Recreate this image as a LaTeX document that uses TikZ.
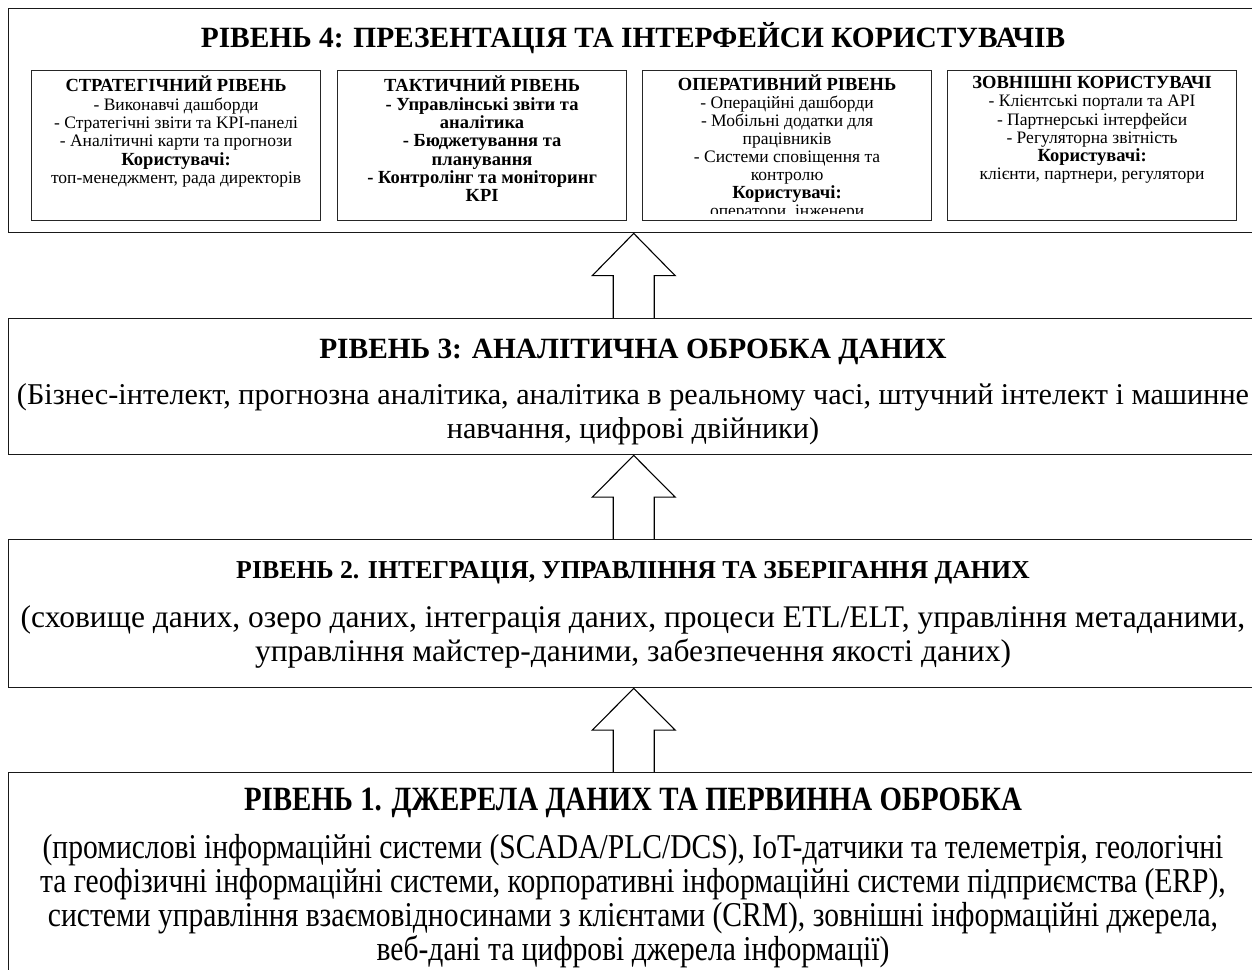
\documentclass[tikz,border=0pt]{standalone}
\usepackage{fontspec}
\setmainfont{Liberation Serif}
\newfontfamily\condfont{Liberation Serif}[FakeStretch=0.85]
\usetikzlibrary{calc}
\newcommand\hb[1]{{\bfseries\fontsize{18.5}{18.3}\selectfont #1}}
\newcommand\blockup[2]{%
 \draw[blockarr] let \p1=(#1.north), \p2=(#2.south), \n1={(\y2-\y1)/2} in
 (\x1-20.5pt,\y1) -- (\x1-20.5pt,\y1+\n1) -- (\x1-41.5pt,\y1+\n1) -- (\x1,\y2)
 -- (\x1+41.5pt,\y1+\n1) -- (\x1+20.5pt,\y1+\n1) -- (\x1+20.5pt,\y1);}
\begin{document}
\begin{tikzpicture}[x=1pt,y=1pt,
 lvl/.style={draw=black!90, line width=1.4pt, rectangle, anchor=north west, inner sep=0, minimum width=1250},
 sub/.style={draw=black!85, line width=1.2pt, rectangle, anchor=north west, inner sep=0, minimum width=289, minimum height=150},
 ttl/.style={font=\bfseries\fontsize{29.4}{33}\selectfont, inner sep=0},
 desc/.style={font=\fontsize{30.2}{34}\selectfont, align=center, inner sep=0},
 subtxt/.style={font=\fontsize{17.5}{18.3}\selectfont, align=center, inner sep=0, anchor=north},
 blockarr/.style={draw, line width=1.1pt, line join=miter}]
\useasboundingbox (0,0) rectangle (1252,969);

% Level 4
\node[lvl, minimum height=224] (l4) at (8,961) {};
\node[ttl] (t4) at (633,931) {РІВЕНЬ 4: ПРЕЗЕНТАЦІЯ ТА ІНТЕРФЕЙСИ КОРИСТУВАЧІВ};
\node[sub] (s1) at (31,899) {};
\node[sub] (s2) at (337,899) {};
\node[sub] (s3) at (642,899) {};
\node[sub] (s4) at (947,899) {};
\node[subtxt] (s1t) at ($(s1.north)+(0,-6)$) {\hb{СТРАТЕГІЧНИЙ РІВЕНЬ}\\- Виконавчі дашборди\\- Стратегічні звіти та KPI-панелі\\- Аналітичні карти та прогнози\\\hb{Користувачі:}\\топ-менеджмент, рада директорів};
\node[subtxt, font=\bfseries\fontsize{18.5}{18.3}\selectfont] (s2t) at ($(s2.north)+(0,-6)$) {ТАКТИЧНИЙ РІВЕНЬ\\- Управлінські звіти та\\аналітика\\- Бюджетування та\\планування\\- Контролінг та моніторинг\\KPI};
\begin{scope}
\clip ($(s3.south west)+(0,8)$) rectangle (s3.north east);
\node[subtxt, font=\fontsize{17.5}{17.9}\selectfont] (s3t) at ($(s3.north)+(0,-5)$) {\hb{ОПЕРАТИВНИЙ РІВЕНЬ}\\- Операційні дашборди\\- Мобільні додатки для\\працівників\\- Системи сповіщення та\\контролю\\\hb{Користувачі:}\\оператори, інженери};
\end{scope}
\node[subtxt] (s4t) at ($(s4.north)+(0,-6)$) {\hb{ЗОВНІШНІ КОРИСТУВАЧІ}\\- Клієнтські портали та API\\- Партнерські інтерфейси\\- Регуляторна звітність\\\hb{Користувачі:}\\клієнти, партнери, регулятори};

% Level 3
\node[lvl, minimum height=136] (l3) at (8,651) {};
\node[ttl] (t3) at (633,617) {РІВЕНЬ 3: АНАЛІТИЧНА ОБРОБКА ДАНИХ};
\node[desc] (d3) at (633,555) {(Бізнес-інтелект, прогнозна аналітика, аналітика в реальному часі, штучний інтелект і машинне\\навчання, цифрові двійники)};

% Level 2
\node[lvl, minimum height=148] (l2) at (8,430) {};
\node[ttl, font=\bfseries\fontsize{25.8}{30}\selectfont] (t2) at (633,396) {РІВЕНЬ 2. ІНТЕГРАЦІЯ, УПРАВЛІННЯ ТА ЗБЕРІГАННЯ ДАНИХ};
\node[desc, font=\fontsize{31.5}{34}\selectfont] (d2) at (633,332) {(сховище даних, озеро даних, інтеграція даних, процеси ETL/ELT, управління метаданими,\\управління майстер-даними, забезпечення якості даних)};

% Level 1
\node[lvl, minimum height=240] (l1) at (8,197) {};
\node[ttl, font=\condfont\bfseries\fontsize{34}{37}\selectfont] (t1) at (633,166) {РІВЕНЬ 1. ДЖЕРЕЛА ДАНИХ ТА ПЕРВИННА ОБРОБКА};
\node[desc, font=\condfont\fontsize{34.8}{34}\selectfont] (d1) at (633,68) {(промислові інформаційні системи (SCADA/PLC/DCS), IoT-датчики та телеметрія, геологічні\\та геофізичні інформаційні системи, корпоративні інформаційні системи підприємства (ERP),\\системи управління взаємовідносинами з клієнтами (CRM), зовнішні інформаційні джерела,\\веб-дані та цифрові джерела інформації)};

% arrows
\blockup{l3}{l4}
\blockup{l2}{l3}
\blockup{l1}{l2}
\end{tikzpicture}
\end{document}
